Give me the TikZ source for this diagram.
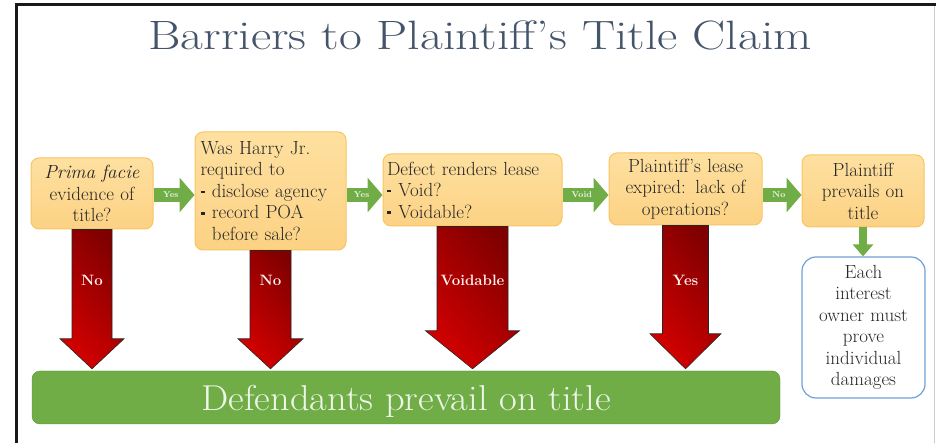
\documentclass[tikz,border=0pt]{standalone}
\usepackage{tikz}
\usetikzlibrary{arrows.meta,positioning,calc}

\definecolor{boxtop}{RGB}{254,224,160}
\definecolor{boxfill}{RGB}{252,210,132}
\definecolor{boxline}{RGB}{249,196,96}
\definecolor{gogreen}{RGB}{112,173,71}
\definecolor{bardark}{RGB}{88,145,54}
\definecolor{outblue}{RGB}{110,160,215}
\definecolor{titleblue}{RGB}{68,84,106}
\definecolor{redtop}{RGB}{128,0,0}
\definecolor{redlow}{RGB}{212,0,0}
\definecolor{palegreen}{RGB}{238,246,232}

\newcommand{\boxfont}{\fontsize{19}{21.5}\selectfont}
\newcommand{\bul}{\makebox[0.6em][l]{\rule[0.5ex]{0.22em}{0.13em}}}

% red block arrow from a question down to the bar
\newcommand{\dropto}[6]{%
  \path[redarr] let \p1=(#1.south), \p2=(bar.north) in
    (\x1-#2pt,\y1) -- (\x1+#2pt,\y1) -- (\x1+#2pt,\y2+#4pt+2pt) -- (\x1+#3pt,\y2+#4pt+2pt)
    -- (\x1,\y2+2pt) -- (\x1-#3pt,\y2+#4pt+2pt) -- (\x1-#2pt,\y2+#4pt+2pt) -- cycle;
  \node[redlbl] (#6) at (#1.south |- 0,163) {#5};
}

\begin{document}
\begin{tikzpicture}[x=1pt, y=1pt,
  qbox/.style={draw=boxline, line width=1pt, rounded corners=8pt, top color=boxtop,
               bottom color=boxfill, inner sep=0pt, font=\boxfont, text=black!85},
  endbox/.style={draw=outblue, line width=1.2pt, fill=white, rounded corners=14pt,
                 inner sep=0pt, font=\boxfont, text=black!85},
  redarr/.style={draw=black!85, line width=0.6pt, top color=redtop, bottom color=redlow,
                 shading angle=-50},
  redlbl/.style={font=\fontsize{15}{15}\selectfont\bfseries, text=white!95!red, inner sep=0pt},
  gofwd/.style={draw=gogreen, line width=14pt, -{Triangle[length=15pt,width=34pt]}},
  godown/.style={draw=gogreen, line width=8pt, -{Triangle[length=12pt,width=20pt]}},
  golbl/.style={font=\fontsize{8.5}{8.5}\selectfont\bfseries, text=palegreen, inner sep=0pt}
]
\useasboundingbox (0,0) rectangle (936,443);

% frame
\draw[line width=1.5pt, black!20] (934.5,0) -- (934.5,438.5);
\draw[line width=2.5pt, black!90] (16.5,0) -- (16.5,438.5) -- (936,438.5);

\node[font=\fontsize{41}{41}\selectfont, text=titleblue, anchor=base] (title) at (480,393)
  {\scalebox{1.21}[1]{Barriers to Plaintiff's Title Claim}};

% questions
\node[qbox, minimum width=122pt, minimum height=71pt, text width=116pt, align=center]
  (b1) at (92,249.5) {\textit{Prima facie}\\evidence of\\title?};
\node[qbox, minimum width=151pt, minimum height=118pt, text width=140pt, align=left]
  (b2) at (270.5,252) {Was Harry Jr.\\required to\\\bul disclose agency\\\bul record POA\\\hspace*{0.6em}before sale?};
\node[qbox, minimum width=179pt, minimum height=72pt, text width=171pt, align=left]
  (b3) at (472.5,253) {Defect renders lease\\\bul Void?\\\bul Voidable?};
\node[qbox, minimum width=153pt, minimum height=72pt, text width=147pt, align=center]
  (b4) at (685.5,254) {Plaintiff's lease\\expired: lack of\\operations?};
\node[qbox, minimum width=122pt, minimum height=72pt, text width=116pt, align=center]
  (b5) at (863,252) {Plaintiff\\prevails on\\title};
\node[endbox, minimum width=123pt, minimum height=141pt, text width=117pt, align=center]
  (b6) at (863.5,115.5) {Each\\interest\\owner must\\prove\\individual\\damages};

\node[draw=bardark, fill=gogreen, rounded corners=8pt, minimum width=748pt, minimum height=53pt,
      inner sep=0pt, text depth=0pt, font=\fontsize{36}{36}\selectfont, text=palegreen]
  (bar) at (406,45.5) {\scalebox{1.07}[1]{Defendants prevail on title}};

% yes path
\coordinate (row) at (0,248);
\draw[gofwd] (b1.east |- row) -- (b2.west |- row) node[pos=0.42, golbl] (y1) {Yes};
\draw[gofwd] (b2.east |- row) -- (b3.west |- row) node[pos=0.42, golbl] (y2) {Yes};
\draw[gofwd] (b3.east |- row) -- (b4.west |- row) node[pos=0.42, golbl] (y3) {Void};
\draw[gofwd] (b4.east |- row) -- (b5.west |- row) node[pos=0.42, golbl] (y4) {No};
\draw[godown] (b5.south) -- (b5.south |- b6.north);

% barriers
\dropto{b1}{20}{32}{30}{No}{n1}
\dropto{b2}{20.5}{32.5}{30}{No}{n2}
\dropto{b3}{35.5}{47}{38}{Voidable}{n3}
\dropto{b4}{23}{35.5}{35}{Yes}{n4}
\end{tikzpicture}
\end{document}
